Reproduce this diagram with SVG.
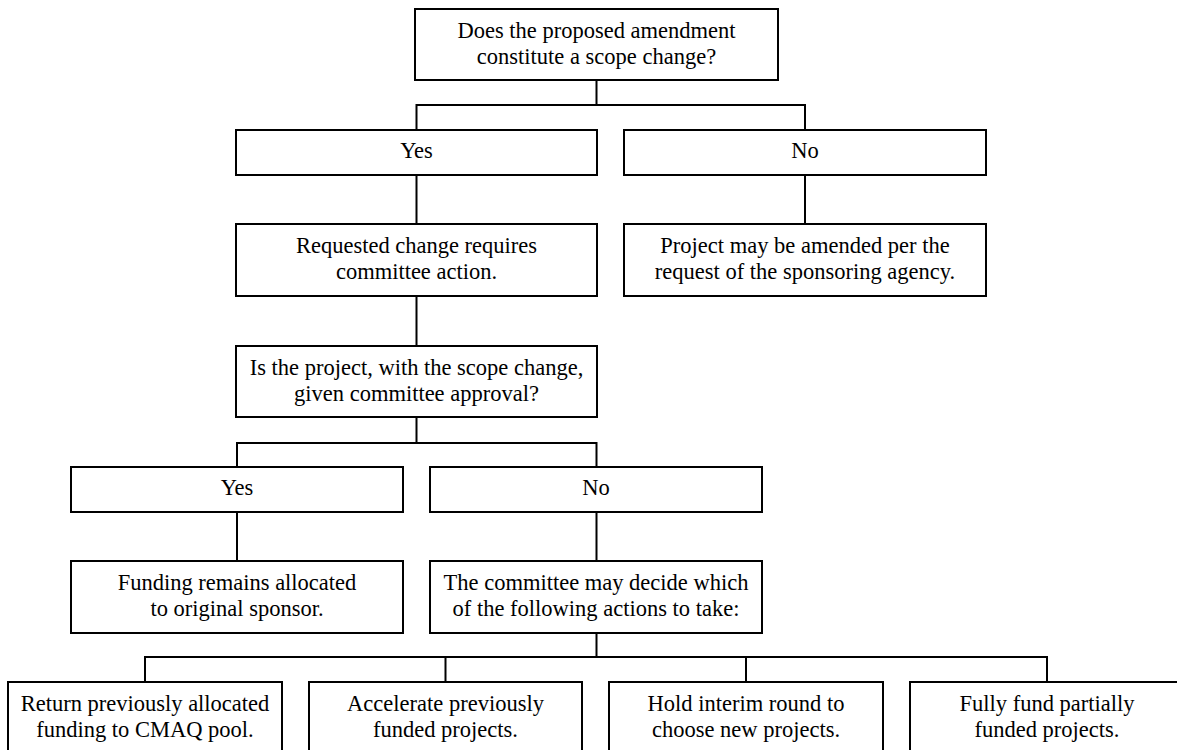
<svg xmlns="http://www.w3.org/2000/svg" width="1177" height="750" viewBox="0 0 1177 750">
<style>
.box{fill:#fff;stroke:#000;stroke-width:2}
.t{font-family:"Liberation Serif","Times New Roman",serif;font-size:22.5px;fill:#000;text-anchor:middle}
.c{fill:none;stroke:#000;stroke-width:2}
</style>
<rect width="1177" height="750" fill="#fff"/>
<g id="connectors">
<path class="c" d="M596.5 80V105M416.5 105H805M416.5 104V130M805 104V130"/>
<path class="c" d="M416.5 175V224M805 175V224M416.5 296V346"/>
<path class="c" d="M416.5 417V443M237 443H596.5M237 442V467M596.5 442V467"/>
<path class="c" d="M237 512V561M596.5 512V561"/>
<path class="c" d="M596.5 633V657M145 657H1047M145 656V682M445.5 656V682M746 656V682M1047 656V682"/>
</g>
<g id="n_scope">
<rect class="box" x="415" y="9" width="363" height="71"/>
<text class="t" x="596.5" y="38">Does the proposed amendment</text>
<text class="t" x="596.5" y="64">constitute a scope change?</text>
</g>
<g id="n_yes1">
<rect class="box" x="236" y="130" width="361" height="45"/>
<text class="t" x="416.5" y="158">Yes</text>
</g>
<g id="n_no1">
<rect class="box" x="624" y="130" width="362" height="45"/>
<text class="t" x="805" y="158">No</text>
</g>
<g id="n_requested">
<rect class="box" x="236" y="224" width="361" height="72"/>
<text class="t" x="416.5" y="253">Requested change requires</text>
<text class="t" x="416.5" y="279">committee action.</text>
</g>
<g id="n_amended">
<rect class="box" x="624" y="224" width="362" height="72"/>
<text class="t" x="805" y="253">Project may be amended per the</text>
<text class="t" x="805" y="279">request of the sponsoring agency.</text>
</g>
<g id="n_approval">
<rect class="box" x="236" y="346" width="361" height="71"/>
<text class="t" x="416.5" y="375">Is the project, with the scope change,</text>
<text class="t" x="416.5" y="401">given committee approval?</text>
</g>
<g id="n_yes2">
<rect class="box" x="71" y="467" width="332" height="45"/>
<text class="t" x="237" y="495">Yes</text>
</g>
<g id="n_no2">
<rect class="box" x="430" y="467" width="332" height="45"/>
<text class="t" x="596" y="495">No</text>
</g>
<g id="n_funding">
<rect class="box" x="71" y="561" width="332" height="72"/>
<text class="t" x="237" y="590">Funding remains allocated</text>
<text class="t" x="237" y="616">to original sponsor.</text>
</g>
<g id="n_committee">
<rect class="box" x="430" y="561" width="332" height="72"/>
<text class="t" x="596" y="590">The committee may decide which</text>
<text class="t" x="596" y="616">of the following actions to take:</text>
</g>
<g id="n_return">
<rect class="box" x="8" y="682" width="274" height="72"/>
<text class="t" x="145" y="711">Return previously allocated</text>
<text class="t" x="145" y="737">funding to CMAQ pool.</text>
</g>
<g id="n_accelerate">
<rect class="box" x="309" y="682" width="273" height="72"/>
<text class="t" x="445.5" y="711">Accelerate previously</text>
<text class="t" x="445.5" y="737">funded projects.</text>
</g>
<g id="n_interim">
<rect class="box" x="609" y="682" width="274" height="72"/>
<text class="t" x="746" y="711">Hold interim round to</text>
<text class="t" x="746" y="737">choose new projects.</text>
</g>
<g id="n_fully">
<rect class="box" x="910" y="682" width="274" height="72"/>
<text class="t" x="1047" y="711">Fully fund partially</text>
<text class="t" x="1047" y="737">funded projects.</text>
</g>
</svg>
